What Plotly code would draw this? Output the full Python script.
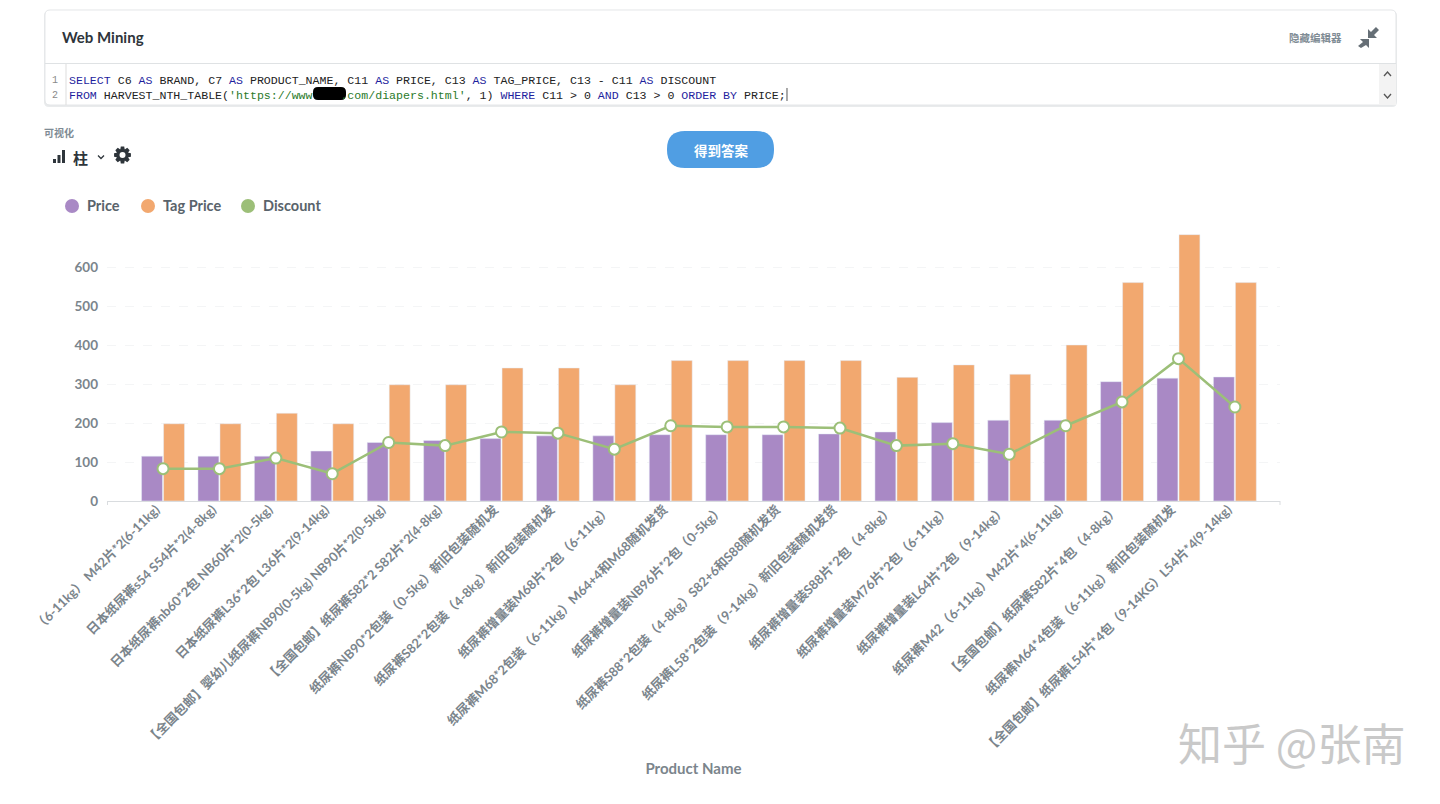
import math
import plotly.graph_objects as go

# values
products = [
    "（6-11kg） M42片*2(6-11kg)",
    "日本纸尿裤s54 S54片*2(4-8kg)",
    "日本纸尿裤nb60*2包 NB60片*2(0-5kg)",
    "日本纸尿裤L36*2包 L36片*2(9-14kg)",
    "【全国包邮】婴幼儿纸尿裤NB90(0-5kg) NB90片*2(0-5kg)",
    "【全国包邮】纸尿裤S82*2 S82片*2(4-8kg)",
    "纸尿裤NB90*2包装（0-5kg）新旧包装随机发",
    "纸尿裤S82*2包装（4-8kg）新旧包装随机发",
    "纸尿裤增量装M68片*2包（6-11kg）",
    "纸尿裤M68*2包装（6-11kg）M64+4和M68随机发货",
    "纸尿裤增量装NB96片*2包（0-5kg）",
    "纸尿裤S88*2包装（4-8kg）S82+6和S88随机发货",
    "纸尿裤L58*2包装（9-14kg）新旧包装随机发货",
    "纸尿裤增量装S88片*2包（4-8kg）",
    "纸尿裤增量装M76片*2包（6-11kg）",
    "纸尿裤增量装L64片*2包（9-14kg）",
    "纸尿裤M42（6-11kg）M42片*4(6-11kg)",
    "【全国包邮】纸尿裤S82片*4包（4-8kg）",
    "纸尿裤M64*4包装（6-11kg）新旧包装随机发",
    "【全国包邮】纸尿裤L54片*4包（9-14KG）L54片*4(9-14kg)",
]
price = [115, 115, 115, 128, 150, 155, 160, 167, 167, 170,
         170, 170, 172, 177, 201, 207, 207, 306, 315, 318]
tag_price = [198, 198, 225, 198, 298, 298, 341, 341, 298, 360,
             360, 360, 360, 317, 349, 325, 400, 560, 683, 560]
discount = [83, 83, 110, 70, 150, 142, 177, 174, 133, 193,
            190, 190, 187, 142, 147, 120, 193, 254, 365, 241]
y_ticks = [0, 100, 200, 300, 400, 500, 600]

PURPLE = "#A989C5"
ORANGE = "#F2A86F"
GREEN = "#9CBF78"
GREY = "#7B858C"
DARK = "#2E353B"
FONT = "Lato, Noto Sans CJK SC, sans-serif"
CJK = "Noto Sans CJK SC, sans-serif"
MONO = "Liberation Mono, monospace"

# plot area in page pixels; the page body adds an 8px margin around the figure
LEFT, RIGHT, TOP, BOTTOM = 107, 1280, 225, 501
BODY = 8
FIG_W, FIG_H = 1424, 788


def px(x):
    return (x - LEFT) / (RIGHT - LEFT)


def py(y):
    return (BOTTOM - y) / (BOTTOM - TOP)


def path(points, close=False):
    s = "M " + " L ".join(f"{px(x):.5f},{py(y):.5f}" for x, y in points)
    return s + (" Z" if close else "")


def round_rect(x0, y0, x1, y1, r):
    a, b = px, py
    return (f"M {a(x0+r):.5f},{b(y0):.5f} L {a(x1-r):.5f},{b(y0):.5f} "
            f"Q {a(x1):.5f},{b(y0):.5f} {a(x1):.5f},{b(y0+r):.5f} "
            f"L {a(x1):.5f},{b(y1-r):.5f} Q {a(x1):.5f},{b(y1):.5f} {a(x1-r):.5f},{b(y1):.5f} "
            f"L {a(x0+r):.5f},{b(y1):.5f} Q {a(x0):.5f},{b(y1):.5f} {a(x0):.5f},{b(y1-r):.5f} "
            f"L {a(x0):.5f},{b(y0+r):.5f} Q {a(x0):.5f},{b(y0):.5f} {a(x0+r):.5f},{b(y0):.5f} Z")


def shape(d, fill=None, line=None, width=1):
    return dict(type="path", xref="paper", yref="paper", path=d, layer="below",
                fillcolor=fill or "rgba(0,0,0,0)",
                line=dict(color=line or "rgba(0,0,0,0)", width=width if line else 0))


def dot(cx, cy, r, colour):
    return dict(type="circle", xref="paper", yref="paper", layer="below",
                x0=px(cx - r), x1=px(cx + r), y0=py(cy + r), y1=py(cy - r),
                fillcolor=colour, line=dict(width=0))


def gear(cx, cy):
    pts = []
    for i in range(8):
        a = i * math.pi / 4
        for da, r in [(-0.36, 6.2), (-0.2, 8.6), (0.2, 8.6), (0.36, 6.2)]:
            pts.append((cx + r * math.cos(a + da), cy + r * math.sin(a + da)))
    return pts


def label(x, y, text, size, color, family=FONT, weight=400, anchor="left"):
    # annotations carry about 2px of padding on the left
    x = x - 2 if anchor == "left" else x
    return dict(xref="paper", yref="paper", x=px(x), y=py(y), text=text, showarrow=False,
                xanchor=anchor, yanchor="middle", align="left",
                font=dict(size=size, color=color, family=family, weight=weight))


def kw(s):
    return f'<span style="color:#1F1F9E">{s}</span>'


fig = go.Figure()
fig.add_trace(go.Bar(x=products, y=price, name="Price", marker_color=PURPLE))
fig.add_trace(go.Bar(x=products, y=tag_price, name="Tag Price", marker_color=ORANGE))
fig.add_trace(go.Scatter(x=products, y=discount, name="Discount", mode="lines+markers",
                         line=dict(color=GREEN, width=2.5),
                         marker=dict(size=11, color="white", line=dict(color=GREEN, width=2))))

sql1 = (kw("SELECT") + " C6 " + kw("AS") + " BRAND, C7 " + kw("AS") + " PRODUCT_NAME, C11 " + kw("AS")
        + " PRICE, C13 " + kw("AS") + " TAG_PRICE, C13 - C11 " + kw("AS") + " DISCOUNT")
sql2 = (kw("FROM") + " HARVEST_NTH_TABLE("
        + '<span style="color:#2A7A2A">\'https://www</span><span style="color:black">.xxx</span>'
        + '<span style="color:#2A7A2A">.com/diapers.html\'</span>' + ", 1) "
        + kw("WHERE") + " C11 > 0 " + kw("AND") + " C13 > 0 " + kw("ORDER BY") + " PRICE;")

shapes = [
    shape(round_rect(44, 11, 1397, 107, 5), fill="#E9EBEC"),
    shape(round_rect(45, 10, 1396, 105, 5), fill="white", line="#E4E6E8"),
    shape(path([(45, 63.5), (1396, 63.5)]), line="#DFE2E4"),
    shape(path([(66, 64), (66, 105)]), line="#DDDDDD"),
    shape(path([(1379, 64), (1396, 64), (1396, 105), (1379, 105)], True), fill="#F3F3F3"),
    # chevrons of the scrollbar
    shape(path([(1384, 76), (1387.5, 72), (1391, 76)]), line="#555555", width=1.3),
    shape(path([(1384, 94), (1387.5, 98), (1391, 94)]), line="#555555", width=1.3),
    # redacted part of the url
    shape(round_rect(313, 87, 346, 100, 5), fill="black"),
    # cursor
    shape(path([(787, 88), (787, 101)]), line="#555555"),
    # compress icon
    shape(path([(1368, 38), (1368, 29), (1371, 32), (1376, 27), (1379, 30), (1374, 35), (1377, 38)], True), fill="#666F76"),
    shape(path([(1369, 39), (1369, 48), (1366, 45), (1361, 48), (1358, 46), (1363, 42), (1360, 39)], True), fill="#666F76"),
    # run button
    shape(round_rect(667, 131, 774, 168, 18), fill="#509EE3"),
    # bar-chart icon
    shape(path([(53, 159), (56, 159), (56, 163), (53, 163)], True), fill=DARK),
    shape(path([(57.5, 155), (60.5, 155), (60.5, 163), (57.5, 163)], True), fill=DARK),
    shape(path([(62, 150), (65, 150), (65, 163), (62, 163)], True), fill=DARK),
    shape(path([(98, 155.5), (101, 158.5), (104, 155.5)]), line=DARK, width=1.3),
    # settings gear
    shape(path(gear(122.5, 155), True), fill=DARK),
    dot(122.5, 155, 3, "white"),
    # end ticks of the x axis
    shape(path([(107.5, 501), (107.5, 505)]), line="#D9DCDF"),
    shape(path([(1280, 501), (1280, 505)]), line="#D9DCDF"),
    # legend keys
    dot(72, 206, 7, PURPLE),
    dot(148, 206, 7, ORANGE),
    dot(248, 206, 7, GREEN),
]

annotations = [
    label(62, 37, "Web Mining", 15, DARK, weight=700),
    label(1289, 37.5, "隐藏编辑器", 10.5, "#7F8C95", family=CJK, weight=700),
    label(52, 80.5, "1", 10, "#8A8A8A", family=MONO),
    label(52, 95.5, "2", 10, "#8A8A8A", family=MONO),
    label(69, 80.5, sql1, 11.6, "#222222", family=MONO),
    label(69, 95.5, sql2, 11.6, "#222222", family=MONO),
    label(44, 132, "可视化", 10, "#7F8C95", family=CJK, weight=700),
    label(73, 157, "柱", 15, DARK, family=CJK, weight=700),
    label(721, 149.5, "得到答案", 13.5, "white", family=CJK, weight=700, anchor="center"),
    label(87, 206, "Price", 14.5, "#59636B", weight=700),
    label(163, 206, "Tag Price", 14.5, "#59636B", weight=700),
    label(263, 206, "Discount", 14.5, "#59636B", weight=700),
    label(1178, 742, "知乎 @张南", 44, "#C9C9C9", family=CJK),
]

fig.update_layout(
    width=FIG_W, height=FIG_H, autosize=False,
    margin=dict(l=LEFT - BODY, r=FIG_W - (RIGHT - BODY), t=TOP - BODY, b=FIG_H - (BOTTOM - BODY),
                autoexpand=False),
    paper_bgcolor="white", plot_bgcolor="white",
    barmode="group", bargap=0.22, bargroupgap=0.05, showlegend=False,
    font=dict(family=FONT, color=GREY),
    shapes=shapes, annotations=annotations,
    xaxis=dict(type="category", range=[-0.993, 19.8], tickangle=-45, showgrid=False,
               showline=True, linecolor="#D9DCDF", linewidth=1, ticks="", automargin=False,
               ticklabelshift=-7, ticklabelstandoff=-5,
               tickfont=dict(size=12.9, color=GREY, family=FONT, weight=700),
               title=dict(text="Product Name", standoff=9,
                          font=dict(size=15, color=GREY, family=FONT, weight=700))),
    yaxis=dict(range=[0, (BOTTOM - TOP) / 0.39], tickvals=y_ticks, showline=False, zeroline=False,
               gridcolor="#F4F5F6", griddash="dash", gridwidth=1, ticks="", automargin=False,
               ticklabelstandoff=8,
               tickfont=dict(size=13.5, color=GREY, family=FONT, weight=700)),
)

fig.write_html("out.html")
